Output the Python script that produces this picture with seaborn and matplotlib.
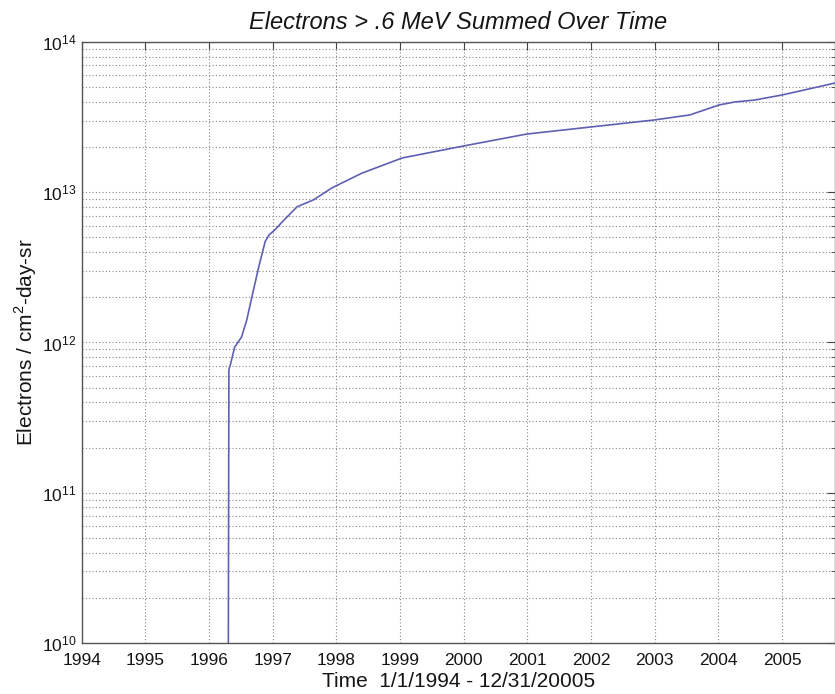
import numpy as np
import pandas as pd
import matplotlib
matplotlib.use("Agg")
import matplotlib.pyplot as plt
import seaborn as sns
from matplotlib.ticker import LogLocator, FixedLocator, NullFormatter

years = [1996.30, 1996.31, 1996.34, 1996.40, 1996.51, 1996.59, 1996.67, 1996.78,
         1996.88, 1996.94, 1997.03, 1997.14, 1997.38, 1997.64, 1997.93, 1998.40,
         1999.03, 1999.99, 2000.99, 2002.00, 2003.00, 2003.55, 2004.01, 2004.26,
         2004.57, 2005.00, 2005.83]
flux = [5e9, 6.6e11, 7.3e11, 9.3e11, 1.09e12, 1.41e12, 2.0e12, 3.2e12,
        4.7e12, 5.2e12, 5.6e12, 6.3e12, 8.0e12, 8.9e12, 1.07e13, 1.34e13,
        1.69e13, 2.03e13, 2.44e13, 2.72e13, 3.03e13, 3.27e13, 3.81e13, 3.99e13,
        4.11e13, 4.44e13, 5.33e13]
year_ticks = list(range(1994, 2006))

df = pd.DataFrame({"year": years, "flux": flux})

sns.set_style("white")
plt.rcParams['font.family'] = ['Liberation Sans', 'DejaVu Sans']
plt.rcParams['mathtext.fontset'] = 'custom'
plt.rcParams['mathtext.rm'] = 'Liberation Sans'
plt.rcParams['text.color'] = '#151515'
plt.rcParams['axes.labelcolor'] = '#151515'
plt.rcParams['xtick.color'] = '#151515'
plt.rcParams['ytick.color'] = '#151515'

fig = plt.figure(figsize=(8.35, 6.94), dpi=100)
ax = fig.add_axes([0.098, 0.0735, 0.902, 0.866])
sns.lineplot(data=df, x="year", y="flux", ax=ax, color="#5f5fb4", linewidth=1.2)
ax.set_yscale("log")
ax.set_xlim(1994, 2005.83)
ax.set_ylim(1e10, 1e14)

ax.xaxis.set_major_locator(FixedLocator(year_ticks))
ax.set_xticklabels([str(y) for y in year_ticks])
ax.yaxis.set_major_locator(LogLocator(base=10, numticks=10))
ax.yaxis.set_minor_locator(LogLocator(base=10, subs=np.arange(2, 10), numticks=100))
ax.yaxis.set_minor_formatter(NullFormatter())

ax.grid(True, which="major", axis="both", linestyle=(0, (1, 2)), color="#888888", linewidth=0.8)
ax.grid(True, which="minor", axis="y", linestyle=(0, (1, 2)), color="#888888", linewidth=0.8)
ax.tick_params(which="both", direction="in", top=True, right=True, labelsize=12.5, color="#444444")
ax.tick_params(which="major", length=6)
ax.tick_params(which="minor", length=3)
ax.tick_params(axis="x", pad=7)
ax.tick_params(axis="y", pad=4)
for s in ax.spines.values():
    s.set_color("#555555")
    s.set_linewidth(1.0)

ax.set_xlabel("Time  1/1/1994 - 12/31/20005", fontsize=15, labelpad=3)
ax.set_ylabel("Electrons / cm$^2$-day-sr", fontsize=15, labelpad=2)
ax.set_title("Electrons > .6 MeV Summed Over Time", fontsize=17, style="italic", pad=9)

fig.savefig("out.png", dpi=100)
